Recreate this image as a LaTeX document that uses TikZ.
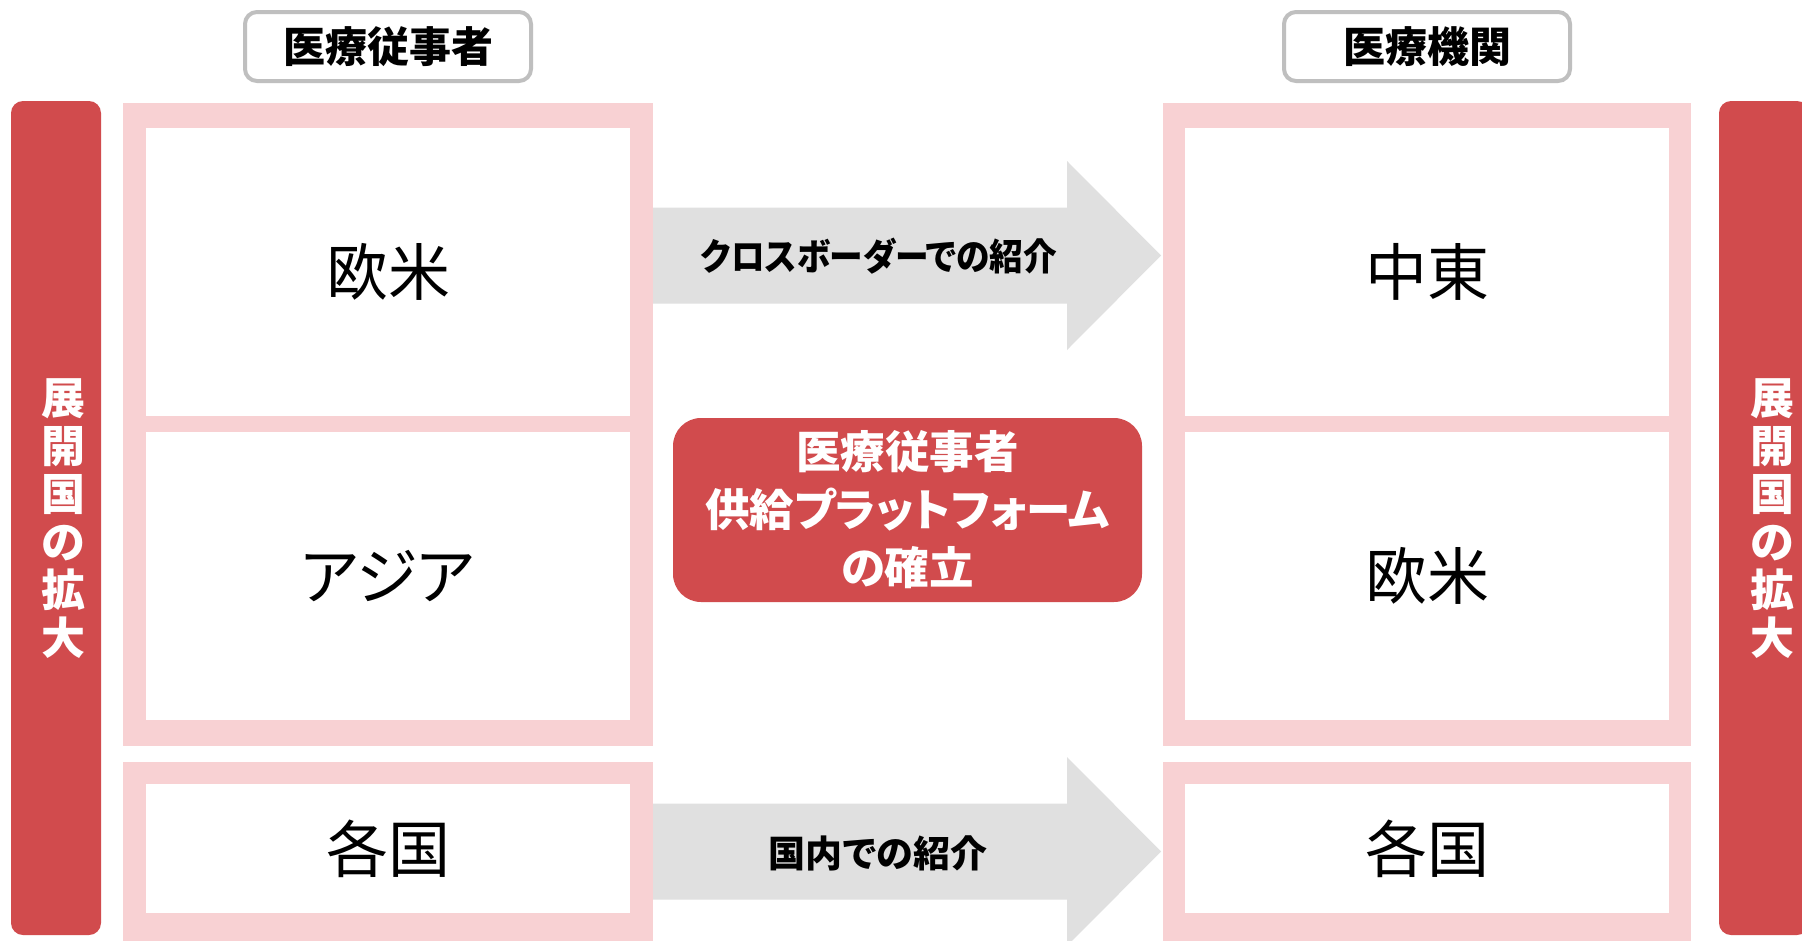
\documentclass[tikz,border=0pt]{standalone}
\usepackage{fontspec}
\newfontfamily\jp{Noto Sans CJK JP}[RawFeature=+palt]
\usetikzlibrary{positioning}
\definecolor{barred}{HTML}{D14B4D}
\definecolor{framepink}{HTML}{F8D1D3}
\definecolor{arrowgray}{HTML}{E0E0E0}
\definecolor{headgray}{HTML}{BFBFBF}
\tikzset{
  cell/.style={fill=white, minimum width=484pt, minimum height=288pt, inner sep=0pt,
    font=\jp\fontsize{62}{70}\selectfont},
  headbox/.style={draw=headgray, line width=4pt, rounded corners=12pt, fill=white,
    minimum width=286pt, minimum height=69pt, inner sep=0pt,
    font=\jp\bfseries\fontsize{42}{48}\selectfont},
  sidelabel/.style={text=white, align=center, inner sep=0pt,
    font=\jp\bfseries\fontsize{44}{48}\selectfont},
  arrowtext/.style={inner sep=0pt, font=\jp\bfseries\fontsize{37}{42}\selectfont},
  platform/.style={fill=barred, rounded corners=28pt, minimum width=469pt,
    minimum height=184pt, text=white, align=center, inner sep=0pt,
    font=\jp\bfseries\fontsize{44.5}{58}\selectfont}
}
\begin{document}
\begin{tikzpicture}[x=1pt, y=-1pt]
  \def\shaft{48} % half height of the arrow shaft
  \def\head{94.5} % half height of the arrow head
  \clip (0,0) rectangle (1802,940);
  \fill[white] (0,0) rectangle (1802,940);
  % red side bars
  \fill[barred, rounded corners=12pt] (11,101) rectangle (101,935);
  \fill[barred, rounded corners=12pt] (1719,101) rectangle (1809,935);
  \node[sidelabel] (lside) at (63,519) {展\\開\\国\\の\\拡\\大};
  \node[sidelabel] (rside) at (1772,519) {展\\開\\国\\の\\拡\\大};
  % pink frames
  \foreach \xl/\xr in {123/653, 1163/1691} {
    \fill[framepink] (\xl,103) rectangle (\xr,746);
    \fill[framepink] (\xl,762) rectangle (\xr,970);
  }
  % gray arrows
  \foreach \yc in {255.5, 851.5} {
    \fill[arrowgray] (653,{\yc-\shaft}) -- (1067,{\yc-\shaft}) -- (1067,{\yc-\head})
      -- (1161,\yc) -- (1067,{\yc+\head}) -- (1067,{\yc+\shaft}) -- (653,{\yc+\shaft}) -- cycle;
  }
  \node[arrowtext] (cross) at (879,256) {\scalebox{0.91}[1]{クロスボーダーでの紹介}};
  \node[arrowtext] (domestic) at (878,853) {国内での紹介};
  % headers
  \node[headbox] (staff) at (388,46.5) {医療従事者};
  \node[headbox] (inst) at (1427,46.5) {医療機関};
  % cells
  \node[cell] (staffwest) at (388,272) {欧米};
  \node[cell, below=16pt of staffwest] (staffasia) {アジア};
  \node[cell, minimum height=129pt] (staffall) at (388,848.5) {各国};
  \node[cell] (instmid) at (1427,272) {中東};
  \node[cell, below=16pt of instmid] (instwest) {欧米};
  \node[cell, minimum height=129pt] (install) at (1427,848.5) {各国};
  % platform
  \node[platform] (plat) at (907.5,510) {医療従事者\\供給プラットフォーム\\の確立};
\end{tikzpicture}
\end{document}
